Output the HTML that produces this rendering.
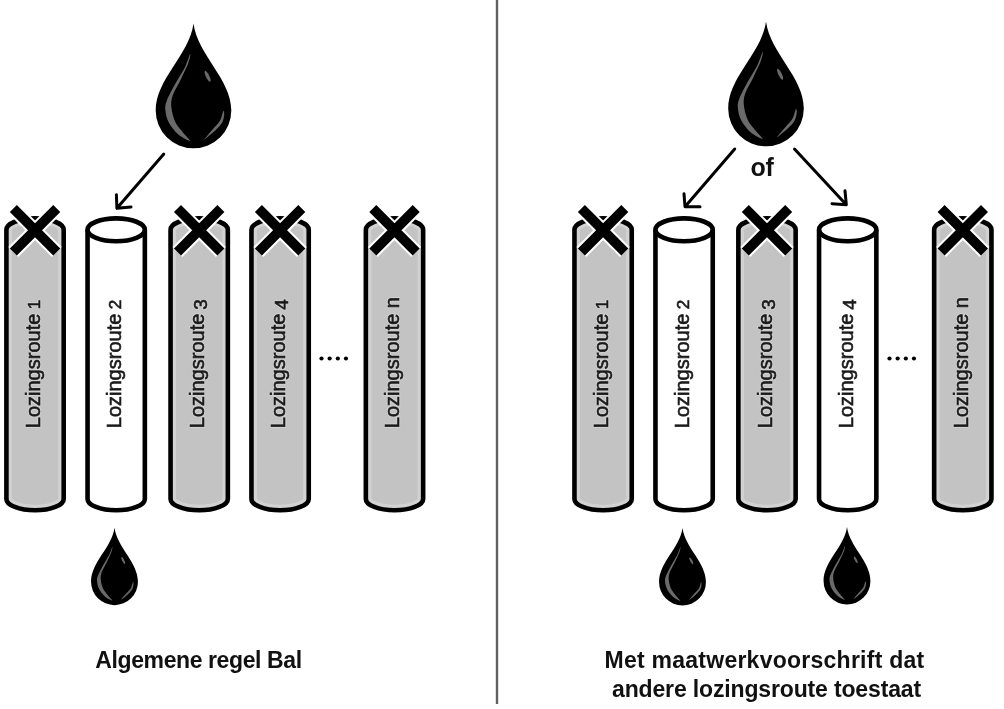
<!DOCTYPE html>
<html><head><meta charset="utf-8"><style>
html,body{margin:0;padding:0;background:#fff;}
svg{display:block;filter:grayscale(1);}
.lab{font-family:"Liberation Sans",sans-serif;font-size:20px;fill:#1a1a1a;stroke:#1a1a1a;stroke-width:0.6px;}
.halo{fill:#d2d2d2;stroke:#d2d2d2;stroke-width:2.4px;stroke-linejoin:round;}
.cap{font-family:"Liberation Sans",sans-serif;font-size:23px;font-weight:bold;fill:#111;text-anchor:middle;}
.of{font-family:"Liberation Sans",sans-serif;font-size:25px;font-weight:bold;fill:#111;text-anchor:middle;letter-spacing:-0.3px;}
</style></head><body>
<svg width="1004" height="709" viewBox="0 0 1004 709">
<rect width="1004" height="709" fill="#fff"/>
<rect x="495.8" y="0" width="2.4" height="704" fill="#606060"/>
<clipPath id="c0"><path d="M6.40,229.8 A28.65,11.4 0 0 1 63.70,229.8 L63.70,498.9 A28.65,11.4 0 0 1 6.40,498.9 Z"/></clipPath><path d="M6.40,229.8 A28.65,11.4 0 0 1 63.70,229.8 L63.70,498.9 A28.65,11.4 0 0 1 6.40,498.9 Z" fill="#c3c3c3"/><path d="M6.40,229.8 A28.65,11.4 0 0 1 63.70,229.8 L63.70,498.9 A28.65,11.4 0 0 1 6.40,498.9 Z" fill="none" stroke="#d2d2d2" stroke-width="11" clip-path="url(#c0)"/><path d="M6.40,229.8 A28.65,11.4 0 0 1 63.70,229.8 L63.70,498.9 A28.65,11.4 0 0 1 6.40,498.9 Z" fill="none" stroke="#000" stroke-width="4.6"/>
<text x="0" y="0" transform="translate(39.95,428.2) rotate(-90)" class="lab halo">Lozingsroute<tspan style="font-size:17px" dx="4.5">1</tspan></text><text x="0" y="0" transform="translate(39.95,428.2) rotate(-90)" class="lab">Lozingsroute<tspan style="font-size:17px" dx="4.5">1</tspan></text>
<path d="M13.35,208.60 L56.75,252.00 M56.75,208.60 L13.35,252.00" stroke="#fff" stroke-width="14" fill="none"/><path d="M13.35,208.60 L56.75,252.00 M56.75,208.60 L13.35,252.00" stroke="#000" stroke-width="9.9" fill="none" stroke-linejoin="round"/>
<path d="M87.55,229.8 A28.65,11.4 0 0 1 144.85,229.8 L144.85,498.9 A28.65,11.4 0 0 1 87.55,498.9 Z" fill="#fff" stroke="#000" stroke-width="4.6"/><path d="M87.55,229.8 A28.65,11.4 0 0 0 144.85,229.8" fill="none" stroke="#000" stroke-width="4.6"/>
<text x="0" y="0" transform="translate(121.10,428.2) rotate(-90)" class="lab">Lozingsroute<tspan style="font-size:17px" dx="4.5">2</tspan></text>
<clipPath id="c2"><path d="M170.55,229.8 A28.65,11.4 0 0 1 227.85,229.8 L227.85,498.9 A28.65,11.4 0 0 1 170.55,498.9 Z"/></clipPath><path d="M170.55,229.8 A28.65,11.4 0 0 1 227.85,229.8 L227.85,498.9 A28.65,11.4 0 0 1 170.55,498.9 Z" fill="#c3c3c3"/><path d="M170.55,229.8 A28.65,11.4 0 0 1 227.85,229.8 L227.85,498.9 A28.65,11.4 0 0 1 170.55,498.9 Z" fill="none" stroke="#d2d2d2" stroke-width="11" clip-path="url(#c2)"/><path d="M170.55,229.8 A28.65,11.4 0 0 1 227.85,229.8 L227.85,498.9 A28.65,11.4 0 0 1 170.55,498.9 Z" fill="none" stroke="#000" stroke-width="4.6"/>
<text x="0" y="0" transform="translate(204.10,428.2) rotate(-90)" class="lab halo">Lozingsroute<tspan style="font-size:19px" dx="4" dy="3">3</tspan></text><text x="0" y="0" transform="translate(204.10,428.2) rotate(-90)" class="lab">Lozingsroute<tspan style="font-size:19px" dx="4" dy="3">3</tspan></text>
<path d="M177.50,208.60 L220.90,252.00 M220.90,208.60 L177.50,252.00" stroke="#fff" stroke-width="14" fill="none"/><path d="M177.50,208.60 L220.90,252.00 M220.90,208.60 L177.50,252.00" stroke="#000" stroke-width="9.9" fill="none" stroke-linejoin="round"/>
<clipPath id="c3"><path d="M251.45,229.8 A28.65,11.4 0 0 1 308.75,229.8 L308.75,498.9 A28.65,11.4 0 0 1 251.45,498.9 Z"/></clipPath><path d="M251.45,229.8 A28.65,11.4 0 0 1 308.75,229.8 L308.75,498.9 A28.65,11.4 0 0 1 251.45,498.9 Z" fill="#c3c3c3"/><path d="M251.45,229.8 A28.65,11.4 0 0 1 308.75,229.8 L308.75,498.9 A28.65,11.4 0 0 1 251.45,498.9 Z" fill="none" stroke="#d2d2d2" stroke-width="11" clip-path="url(#c3)"/><path d="M251.45,229.8 A28.65,11.4 0 0 1 308.75,229.8 L308.75,498.9 A28.65,11.4 0 0 1 251.45,498.9 Z" fill="none" stroke="#000" stroke-width="4.6"/>
<text x="0" y="0" transform="translate(285.00,428.2) rotate(-90)" class="lab halo">Lozingsroute<tspan style="font-size:19px" dx="4" dy="3">4</tspan></text><text x="0" y="0" transform="translate(285.00,428.2) rotate(-90)" class="lab">Lozingsroute<tspan style="font-size:19px" dx="4" dy="3">4</tspan></text>
<path d="M258.40,208.60 L301.80,252.00 M301.80,208.60 L258.40,252.00" stroke="#fff" stroke-width="14" fill="none"/><path d="M258.40,208.60 L301.80,252.00 M301.80,208.60 L258.40,252.00" stroke="#000" stroke-width="9.9" fill="none" stroke-linejoin="round"/>
<clipPath id="c4"><path d="M365.85,229.8 A28.65,11.4 0 0 1 423.15,229.8 L423.15,498.9 A28.65,11.4 0 0 1 365.85,498.9 Z"/></clipPath><path d="M365.85,229.8 A28.65,11.4 0 0 1 423.15,229.8 L423.15,498.9 A28.65,11.4 0 0 1 365.85,498.9 Z" fill="#c3c3c3"/><path d="M365.85,229.8 A28.65,11.4 0 0 1 423.15,229.8 L423.15,498.9 A28.65,11.4 0 0 1 365.85,498.9 Z" fill="none" stroke="#d2d2d2" stroke-width="11" clip-path="url(#c4)"/><path d="M365.85,229.8 A28.65,11.4 0 0 1 423.15,229.8 L423.15,498.9 A28.65,11.4 0 0 1 365.85,498.9 Z" fill="none" stroke="#000" stroke-width="4.6"/>
<text x="0" y="0" transform="translate(399.40,428.2) rotate(-90)" class="lab halo">Lozingsroute<tspan dx="5.5">n</tspan></text><text x="0" y="0" transform="translate(399.40,428.2) rotate(-90)" class="lab">Lozingsroute<tspan dx="5.5">n</tspan></text>
<path d="M372.80,208.60 L416.20,252.00 M416.20,208.60 L372.80,252.00" stroke="#fff" stroke-width="14" fill="none"/><path d="M372.80,208.60 L416.20,252.00 M416.20,208.60 L372.80,252.00" stroke="#000" stroke-width="9.9" fill="none" stroke-linejoin="round"/>
<clipPath id="c5"><path d="M574.45,229.8 A28.65,11.4 0 0 1 631.75,229.8 L631.75,498.9 A28.65,11.4 0 0 1 574.45,498.9 Z"/></clipPath><path d="M574.45,229.8 A28.65,11.4 0 0 1 631.75,229.8 L631.75,498.9 A28.65,11.4 0 0 1 574.45,498.9 Z" fill="#c3c3c3"/><path d="M574.45,229.8 A28.65,11.4 0 0 1 631.75,229.8 L631.75,498.9 A28.65,11.4 0 0 1 574.45,498.9 Z" fill="none" stroke="#d2d2d2" stroke-width="11" clip-path="url(#c5)"/><path d="M574.45,229.8 A28.65,11.4 0 0 1 631.75,229.8 L631.75,498.9 A28.65,11.4 0 0 1 574.45,498.9 Z" fill="none" stroke="#000" stroke-width="4.6"/>
<text x="0" y="0" transform="translate(608.00,428.2) rotate(-90)" class="lab halo">Lozingsroute<tspan style="font-size:17px" dx="4.5">1</tspan></text><text x="0" y="0" transform="translate(608.00,428.2) rotate(-90)" class="lab">Lozingsroute<tspan style="font-size:17px" dx="4.5">1</tspan></text>
<path d="M581.40,208.60 L624.80,252.00 M624.80,208.60 L581.40,252.00" stroke="#fff" stroke-width="14" fill="none"/><path d="M581.40,208.60 L624.80,252.00 M624.80,208.60 L581.40,252.00" stroke="#000" stroke-width="9.9" fill="none" stroke-linejoin="round"/>
<path d="M655.45,229.8 A28.65,11.4 0 0 1 712.75,229.8 L712.75,498.9 A28.65,11.4 0 0 1 655.45,498.9 Z" fill="#fff" stroke="#000" stroke-width="4.6"/><path d="M655.45,229.8 A28.65,11.4 0 0 0 712.75,229.8" fill="none" stroke="#000" stroke-width="4.6"/>
<text x="0" y="0" transform="translate(689.00,428.2) rotate(-90)" class="lab">Lozingsroute<tspan style="font-size:17px" dx="4.5">2</tspan></text>
<clipPath id="c7"><path d="M738.35,229.8 A28.65,11.4 0 0 1 795.65,229.8 L795.65,498.9 A28.65,11.4 0 0 1 738.35,498.9 Z"/></clipPath><path d="M738.35,229.8 A28.65,11.4 0 0 1 795.65,229.8 L795.65,498.9 A28.65,11.4 0 0 1 738.35,498.9 Z" fill="#c3c3c3"/><path d="M738.35,229.8 A28.65,11.4 0 0 1 795.65,229.8 L795.65,498.9 A28.65,11.4 0 0 1 738.35,498.9 Z" fill="none" stroke="#d2d2d2" stroke-width="11" clip-path="url(#c7)"/><path d="M738.35,229.8 A28.65,11.4 0 0 1 795.65,229.8 L795.65,498.9 A28.65,11.4 0 0 1 738.35,498.9 Z" fill="none" stroke="#000" stroke-width="4.6"/>
<text x="0" y="0" transform="translate(771.90,428.2) rotate(-90)" class="lab halo">Lozingsroute<tspan style="font-size:19px" dx="4" dy="3">3</tspan></text><text x="0" y="0" transform="translate(771.90,428.2) rotate(-90)" class="lab">Lozingsroute<tspan style="font-size:19px" dx="4" dy="3">3</tspan></text>
<path d="M745.30,208.60 L788.70,252.00 M788.70,208.60 L745.30,252.00" stroke="#fff" stroke-width="14" fill="none"/><path d="M745.30,208.60 L788.70,252.00 M788.70,208.60 L745.30,252.00" stroke="#000" stroke-width="9.9" fill="none" stroke-linejoin="round"/>
<path d="M819.05,229.8 A28.65,11.4 0 0 1 876.35,229.8 L876.35,498.9 A28.65,11.4 0 0 1 819.05,498.9 Z" fill="#fff" stroke="#000" stroke-width="4.6"/><path d="M819.05,229.8 A28.65,11.4 0 0 0 876.35,229.8" fill="none" stroke="#000" stroke-width="4.6"/>
<text x="0" y="0" transform="translate(852.60,428.2) rotate(-90)" class="lab">Lozingsroute<tspan style="font-size:19px" dx="4" dy="3">4</tspan></text>
<clipPath id="c9"><path d="M934.15,229.8 A28.65,11.4 0 0 1 991.45,229.8 L991.45,498.9 A28.65,11.4 0 0 1 934.15,498.9 Z"/></clipPath><path d="M934.15,229.8 A28.65,11.4 0 0 1 991.45,229.8 L991.45,498.9 A28.65,11.4 0 0 1 934.15,498.9 Z" fill="#c3c3c3"/><path d="M934.15,229.8 A28.65,11.4 0 0 1 991.45,229.8 L991.45,498.9 A28.65,11.4 0 0 1 934.15,498.9 Z" fill="none" stroke="#d2d2d2" stroke-width="11" clip-path="url(#c9)"/><path d="M934.15,229.8 A28.65,11.4 0 0 1 991.45,229.8 L991.45,498.9 A28.65,11.4 0 0 1 934.15,498.9 Z" fill="none" stroke="#000" stroke-width="4.6"/>
<text x="0" y="0" transform="translate(967.70,428.2) rotate(-90)" class="lab halo">Lozingsroute<tspan dx="5.5">n</tspan></text><text x="0" y="0" transform="translate(967.70,428.2) rotate(-90)" class="lab">Lozingsroute<tspan dx="5.5">n</tspan></text>
<path d="M941.10,208.60 L984.50,252.00 M984.50,208.60 L941.10,252.00" stroke="#fff" stroke-width="14" fill="none"/><path d="M941.10,208.60 L984.50,252.00 M984.50,208.60 L941.10,252.00" stroke="#000" stroke-width="9.9" fill="none" stroke-linejoin="round"/>
<circle cx="321.50" cy="358.5" r="2.1" fill="#000"/>
<circle cx="329.65" cy="358.5" r="2.1" fill="#000"/>
<circle cx="337.80" cy="358.5" r="2.1" fill="#000"/>
<circle cx="345.95" cy="358.5" r="2.1" fill="#000"/>
<circle cx="889.50" cy="358.5" r="2.1" fill="#000"/>
<circle cx="897.65" cy="358.5" r="2.1" fill="#000"/>
<circle cx="905.80" cy="358.5" r="2.1" fill="#000"/>
<circle cx="913.95" cy="358.5" r="2.1" fill="#000"/>
<g transform="translate(193.5,110.5) scale(1)"><path d="M0,-87 C4.4,-54.9 37.8,-31.5 37.8,0 A37.8,37.8 0 0 1 -37.8,0 C-37.8,-31.5 -4.4,-54.9 0,-87 Z" fill="#000"/><path d="M-3.40,-56.50 C-4.02,-55.68 -6.25,-48.02 -8.70,-43.10 C-11.15,-38.18 -15.08,-32.58 -18.10,-27.00 C-21.12,-21.42 -25.13,-14.05 -26.80,-9.60 C-28.47,-5.15 -28.43,-3.87 -28.10,-0.30 C-27.77,3.27 -26.92,7.78 -24.80,11.80 C-22.68,15.82 -18.97,20.68 -15.40,23.80 C-11.83,26.92 -4.28,30.72 -3.40,30.50 C-2.52,30.28 -7.65,25.62 -10.10,22.50 C-12.55,19.38 -16.10,16.03 -18.10,11.80 C-20.10,7.57 -21.65,1.57 -22.10,-2.90 C-22.55,-7.37 -22.37,-10.32 -20.80,-15.00 C-19.23,-19.68 -15.33,-25.50 -12.70,-31.00 C-10.07,-36.50 -6.55,-43.75 -5.00,-48.00 C-3.45,-52.25 -2.78,-57.32 -3.40,-56.50 Z" fill="#6a6a6a"/><path d="M30.10,0.30 C30.38,0.48 30.92,2.20 30.70,4.10 C30.48,6.00 30.17,9.17 28.80,11.70 C27.43,14.23 25.47,16.43 22.50,19.30 C19.53,22.17 11.53,29.00 11.00,28.90 C10.47,28.80 16.75,21.77 19.30,18.70 C21.85,15.63 24.68,13.12 26.30,10.50 C27.92,7.88 28.37,4.70 29.00,3.00 C29.63,1.30 29.82,0.12 30.10,0.30 Z" fill="#6a6a6a"/><ellipse cx="0" cy="0" rx="1.7" ry="6" fill="#6a6a6a" transform="translate(14.1,-34.2) rotate(-26)"/></g>
<g transform="translate(766,108.5) scale(1)"><path d="M0,-87 C4.4,-54.9 37.8,-31.5 37.8,0 A37.8,37.8 0 0 1 -37.8,0 C-37.8,-31.5 -4.4,-54.9 0,-87 Z" fill="#000"/><path d="M-3.40,-56.50 C-4.02,-55.68 -6.25,-48.02 -8.70,-43.10 C-11.15,-38.18 -15.08,-32.58 -18.10,-27.00 C-21.12,-21.42 -25.13,-14.05 -26.80,-9.60 C-28.47,-5.15 -28.43,-3.87 -28.10,-0.30 C-27.77,3.27 -26.92,7.78 -24.80,11.80 C-22.68,15.82 -18.97,20.68 -15.40,23.80 C-11.83,26.92 -4.28,30.72 -3.40,30.50 C-2.52,30.28 -7.65,25.62 -10.10,22.50 C-12.55,19.38 -16.10,16.03 -18.10,11.80 C-20.10,7.57 -21.65,1.57 -22.10,-2.90 C-22.55,-7.37 -22.37,-10.32 -20.80,-15.00 C-19.23,-19.68 -15.33,-25.50 -12.70,-31.00 C-10.07,-36.50 -6.55,-43.75 -5.00,-48.00 C-3.45,-52.25 -2.78,-57.32 -3.40,-56.50 Z" fill="#6a6a6a"/><path d="M30.10,0.30 C30.38,0.48 30.92,2.20 30.70,4.10 C30.48,6.00 30.17,9.17 28.80,11.70 C27.43,14.23 25.47,16.43 22.50,19.30 C19.53,22.17 11.53,29.00 11.00,28.90 C10.47,28.80 16.75,21.77 19.30,18.70 C21.85,15.63 24.68,13.12 26.30,10.50 C27.92,7.88 28.37,4.70 29.00,3.00 C29.63,1.30 29.82,0.12 30.10,0.30 Z" fill="#6a6a6a"/><ellipse cx="0" cy="0" rx="1.7" ry="6" fill="#6a6a6a" transform="translate(14.1,-34.2) rotate(-26)"/></g>
<g transform="translate(114.5,581.7) scale(0.62)"><path d="M0,-87 C4.4,-54.9 37.8,-31.5 37.8,0 A37.8,37.8 0 0 1 -37.8,0 C-37.8,-31.5 -4.4,-54.9 0,-87 Z" fill="#000"/><path d="M-3.40,-56.50 C-4.02,-55.68 -6.25,-48.02 -8.70,-43.10 C-11.15,-38.18 -15.08,-32.58 -18.10,-27.00 C-21.12,-21.42 -25.13,-14.05 -26.80,-9.60 C-28.47,-5.15 -28.43,-3.87 -28.10,-0.30 C-27.77,3.27 -26.92,7.78 -24.80,11.80 C-22.68,15.82 -18.97,20.68 -15.40,23.80 C-11.83,26.92 -4.28,30.72 -3.40,30.50 C-2.52,30.28 -7.65,25.62 -10.10,22.50 C-12.55,19.38 -16.10,16.03 -18.10,11.80 C-20.10,7.57 -21.65,1.57 -22.10,-2.90 C-22.55,-7.37 -22.37,-10.32 -20.80,-15.00 C-19.23,-19.68 -15.33,-25.50 -12.70,-31.00 C-10.07,-36.50 -6.55,-43.75 -5.00,-48.00 C-3.45,-52.25 -2.78,-57.32 -3.40,-56.50 Z" fill="#6a6a6a"/><path d="M30.10,0.30 C30.38,0.48 30.92,2.20 30.70,4.10 C30.48,6.00 30.17,9.17 28.80,11.70 C27.43,14.23 25.47,16.43 22.50,19.30 C19.53,22.17 11.53,29.00 11.00,28.90 C10.47,28.80 16.75,21.77 19.30,18.70 C21.85,15.63 24.68,13.12 26.30,10.50 C27.92,7.88 28.37,4.70 29.00,3.00 C29.63,1.30 29.82,0.12 30.10,0.30 Z" fill="#6a6a6a"/><ellipse cx="0" cy="0" rx="1.7" ry="6" fill="#6a6a6a" transform="translate(14.1,-34.2) rotate(-26)"/></g>
<g transform="translate(682.5,582) scale(0.62)"><path d="M0,-87 C4.4,-54.9 37.8,-31.5 37.8,0 A37.8,37.8 0 0 1 -37.8,0 C-37.8,-31.5 -4.4,-54.9 0,-87 Z" fill="#000"/><path d="M-3.40,-56.50 C-4.02,-55.68 -6.25,-48.02 -8.70,-43.10 C-11.15,-38.18 -15.08,-32.58 -18.10,-27.00 C-21.12,-21.42 -25.13,-14.05 -26.80,-9.60 C-28.47,-5.15 -28.43,-3.87 -28.10,-0.30 C-27.77,3.27 -26.92,7.78 -24.80,11.80 C-22.68,15.82 -18.97,20.68 -15.40,23.80 C-11.83,26.92 -4.28,30.72 -3.40,30.50 C-2.52,30.28 -7.65,25.62 -10.10,22.50 C-12.55,19.38 -16.10,16.03 -18.10,11.80 C-20.10,7.57 -21.65,1.57 -22.10,-2.90 C-22.55,-7.37 -22.37,-10.32 -20.80,-15.00 C-19.23,-19.68 -15.33,-25.50 -12.70,-31.00 C-10.07,-36.50 -6.55,-43.75 -5.00,-48.00 C-3.45,-52.25 -2.78,-57.32 -3.40,-56.50 Z" fill="#6a6a6a"/><path d="M30.10,0.30 C30.38,0.48 30.92,2.20 30.70,4.10 C30.48,6.00 30.17,9.17 28.80,11.70 C27.43,14.23 25.47,16.43 22.50,19.30 C19.53,22.17 11.53,29.00 11.00,28.90 C10.47,28.80 16.75,21.77 19.30,18.70 C21.85,15.63 24.68,13.12 26.30,10.50 C27.92,7.88 28.37,4.70 29.00,3.00 C29.63,1.30 29.82,0.12 30.10,0.30 Z" fill="#6a6a6a"/><ellipse cx="0" cy="0" rx="1.7" ry="6" fill="#6a6a6a" transform="translate(14.1,-34.2) rotate(-26)"/></g>
<g transform="translate(847,581) scale(0.62)"><path d="M0,-87 C4.4,-54.9 37.8,-31.5 37.8,0 A37.8,37.8 0 0 1 -37.8,0 C-37.8,-31.5 -4.4,-54.9 0,-87 Z" fill="#000"/><path d="M-3.40,-56.50 C-4.02,-55.68 -6.25,-48.02 -8.70,-43.10 C-11.15,-38.18 -15.08,-32.58 -18.10,-27.00 C-21.12,-21.42 -25.13,-14.05 -26.80,-9.60 C-28.47,-5.15 -28.43,-3.87 -28.10,-0.30 C-27.77,3.27 -26.92,7.78 -24.80,11.80 C-22.68,15.82 -18.97,20.68 -15.40,23.80 C-11.83,26.92 -4.28,30.72 -3.40,30.50 C-2.52,30.28 -7.65,25.62 -10.10,22.50 C-12.55,19.38 -16.10,16.03 -18.10,11.80 C-20.10,7.57 -21.65,1.57 -22.10,-2.90 C-22.55,-7.37 -22.37,-10.32 -20.80,-15.00 C-19.23,-19.68 -15.33,-25.50 -12.70,-31.00 C-10.07,-36.50 -6.55,-43.75 -5.00,-48.00 C-3.45,-52.25 -2.78,-57.32 -3.40,-56.50 Z" fill="#6a6a6a"/><path d="M30.10,0.30 C30.38,0.48 30.92,2.20 30.70,4.10 C30.48,6.00 30.17,9.17 28.80,11.70 C27.43,14.23 25.47,16.43 22.50,19.30 C19.53,22.17 11.53,29.00 11.00,28.90 C10.47,28.80 16.75,21.77 19.30,18.70 C21.85,15.63 24.68,13.12 26.30,10.50 C27.92,7.88 28.37,4.70 29.00,3.00 C29.63,1.30 29.82,0.12 30.10,0.30 Z" fill="#6a6a6a"/><ellipse cx="0" cy="0" rx="1.7" ry="6" fill="#6a6a6a" transform="translate(14.1,-34.2) rotate(-26)"/></g>
<path d="M163.8,154.1 L116.9,208.3 M116.4,194.7 L116.9,208.3 L131,207" stroke="#000" stroke-width="3" fill="none" stroke-linecap="round" stroke-linejoin="round"/>
<path d="M734.7,149 L685,206.7 M684,193.8 L685,206.7 L700,206.7" stroke="#000" stroke-width="3" fill="none" stroke-linecap="round" stroke-linejoin="round"/>
<path d="M794.5,149 L846.3,204.7 M845,190.8 L846.3,204.7 L832,203.7" stroke="#000" stroke-width="3" fill="none" stroke-linecap="round" stroke-linejoin="round"/>
<text x="762" y="175.5" class="of">of</text>
<text x="198.5" y="667.6" class="cap" style="letter-spacing:-0.4px">Algemene regel Bal</text>
<text x="764.5" y="668" class="cap" style="letter-spacing:0.25px">Met maatwerkvoorschrift dat</text>
<text x="766.5" y="697.3" class="cap" style="letter-spacing:-0.15px">andere lozingsroute toestaat</text>
</svg>
</body></html>
